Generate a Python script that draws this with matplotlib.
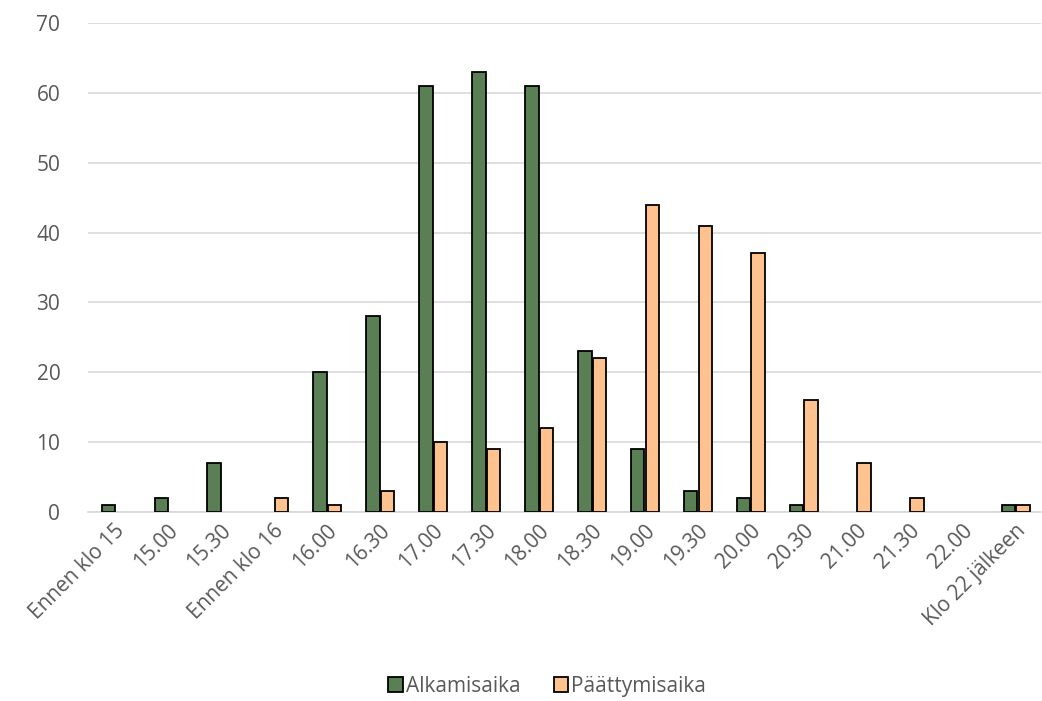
import numpy as np
import matplotlib
matplotlib.use("Agg")
from matplotlib import pyplot as plt

# categories and values
categories = ["Ennen klo 15", "15.00", "15.30", "Ennen klo 16", "16.00", "16.30",
              "17.00", "17.30", "18.00", "18.30", "19.00", "19.30", "20.00",
              "20.30", "21.00", "21.30", "22.00", "Klo 22 jälkeen"]
alkamisaika = [1, 2, 7, 0, 20, 28, 61, 63, 61, 23, 9, 3, 2, 1, 0, 0, 0, 1]
paattymisaika = [0, 0, 0, 2, 1, 3, 10, 9, 12, 22, 44, 41, 37, 16, 7, 2, 0, 1]

plt.rcParams['font.family'] = ['Open Sans', 'DejaVu Sans']
grey = '#595959'

fig = plt.figure(figsize=(10.42, 7.01), dpi=100)
ax = fig.add_axes([0.0845, 0.27, 0.915, 0.697])

x = np.arange(len(categories))
w = 0.25
# zero values draw no bar (no outline either)
a = np.array(alkamisaika, dtype=float)
p = np.array(paattymisaika, dtype=float)
a[a == 0] = np.nan
p[p == 0] = np.nan
ax.bar(x - 0.12, a, w, color='#5b7f55', edgecolor='black', linewidth=1.3,
       label='Alkamisaika', zorder=3)
ax.bar(x + 0.15, p, w, color='#fdc28e', edgecolor='black', linewidth=1.3,
       label='Päättymisaika', zorder=3)

ax.set_xlim(-0.5, len(categories) - 0.5)
ax.set_ylim(0, 70)
ax.set_yticks(range(0, 71, 10))
ax.yaxis.grid(True, color='#d9d9d9', linewidth=1.2, zorder=0)
for s in ['top', 'right', 'left']:
    ax.spines[s].set_visible(False)
ax.spines['bottom'].set_color('#d9d9d9')
ax.spines['bottom'].set_linewidth(1.2)
ax.tick_params(axis='both', length=0, colors=grey, labelsize=15)
ax.tick_params(axis='y', pad=20)
ax.tick_params(axis='x', pad=6)
ax.set_xticks(x)
ax.set_xticklabels(categories, rotation=45, ha='right', rotation_mode='anchor')

leg = fig.legend(loc='center', bbox_to_anchor=(0.525, 0.021), ncol=2, frameon=False,
                 fontsize=15, handlelength=0.7, handleheight=0.7, handletextpad=0.15,
                 columnspacing=1.6)
for t in leg.get_texts():
    t.set_color(grey)

fig.savefig('out.png', dpi=100)
